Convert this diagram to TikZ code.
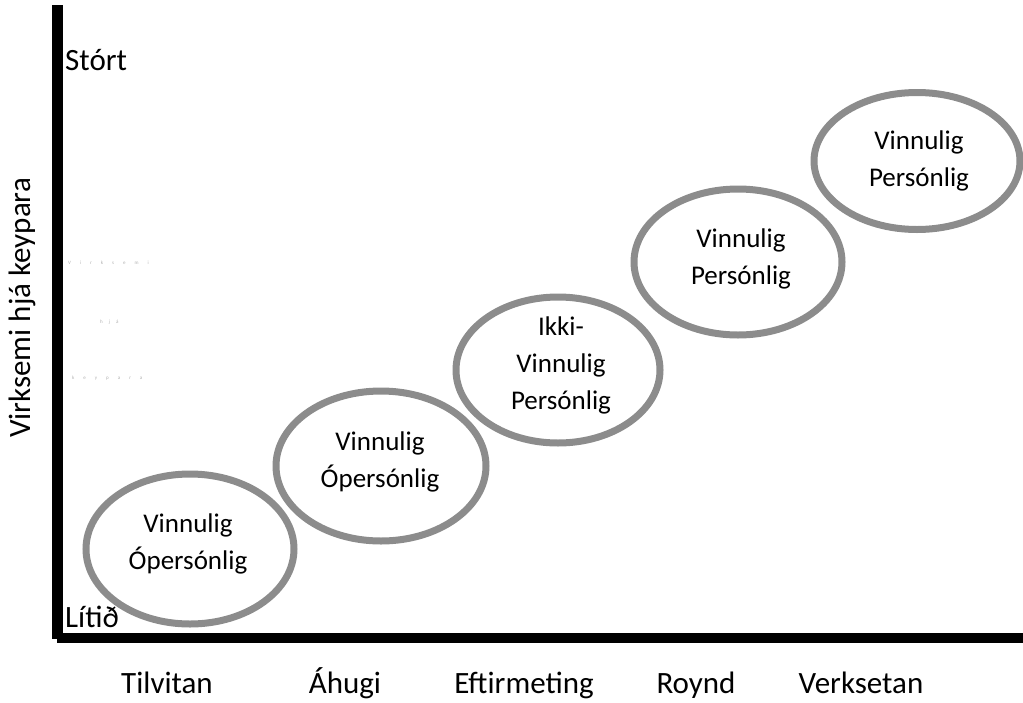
\documentclass[tikz,border=0pt]{standalone}
\usepackage{fontspec}
\setmainfont{Carlito}
\usetikzlibrary{shapes.geometric}
\definecolor{ringgray}{HTML}{8C8C8C}
\definecolor{ghost}{HTML}{B0B0B0}
\tikzset{
  ring/.style={draw=ringgray, line width=7pt, ellipse, inner sep=0pt},
  ringtext/.style={align=center, font=\fontsize{27}{37}\selectfont, inner sep=0pt},
  axislabel/.style={font=\fontsize{31}{37}\selectfont, inner sep=0pt},
  ghosttext/.style={text=ghost, font=\fontsize{5}{6}\selectfont, inner sep=0pt, anchor=west}
}
\begin{document}
\begin{tikzpicture}[x=1pt, y=-1pt]
\useasboundingbox (0,0) rectangle (1023,702);
% axes
\fill[black] (52,5) rectangle (63,639);
\fill[black] (57,633) rectangle (1023,643);
% ghost marks
\node[ghosttext] (g1) at (68,263) {V\hspace{9pt}i\hspace{9pt}r\hspace{9pt}k\hspace{9pt}s\hspace{9pt}e\hspace{9pt}m\hspace{9pt}i};
\node[ghosttext] (g2) at (100,322) {h\hspace{6pt}j\hspace{6pt}á};
\node[ghosttext] (g3) at (72,378) {k\hspace{9pt}e\hspace{9pt}y\hspace{9pt}p\hspace{9pt}a\hspace{9pt}r\hspace{9pt}a};
% rings
\node[ring, minimum width=208pt, minimum height=150pt] (e1) at (190,549) {};
\node[ring, minimum width=210pt, minimum height=150pt] (e2) at (381,466) {};
\node[ring, minimum width=204pt, minimum height=146pt] (e3) at (558,370) {};
\node[ring, minimum width=208pt, minimum height=146pt] (e4) at (738,262) {};
\node[ring, minimum width=206pt, minimum height=137pt] (e5) at (917,161) {};
% ring texts
\node[ringtext] (t1) at (188,544) {Vinnulig\\Ópersónlig};
\node[ringtext] (t2) at (380,462) {Vinnulig\\Ópersónlig};
\node[ringtext] (t3) at (561,365) {Ikki-\\Vinnulig\\Persónlig};
\node[ringtext] (t4) at (741,259) {Vinnulig\\Persónlig};
\node[ringtext] (t5) at (919,161) {Vinnulig\\Persónlig};
% axis texts
\node[axislabel, anchor=west] (big) at (65,60) {Stórt};
\node[axislabel, anchor=west] (small) at (65,617) {Lítið};
\node[axislabel, rotate=90] (ylab) at (22,308) {Virksemi hjá keypara};
\node[axislabel, anchor=base] (x1) at (167,693) {Tilvitan};
\node[axislabel, anchor=base] (x2) at (345,693) {Áhugi};
\node[axislabel, anchor=base] (x3) at (524,693) {Eftirmeting};
\node[axislabel, anchor=base] (x4) at (696,693) {Roynd};
\node[axislabel, anchor=base] (x5) at (861,693) {Verksetan};
\end{tikzpicture}
\end{document}
